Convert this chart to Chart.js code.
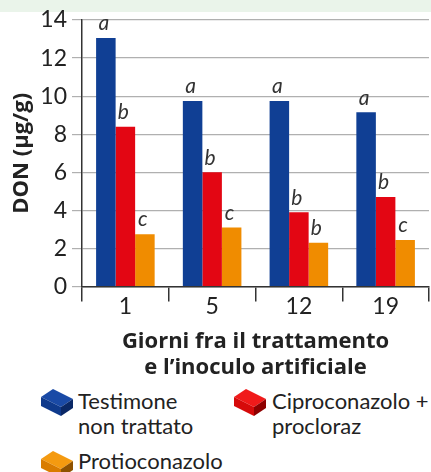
<!DOCTYPE html>
<html>
<head>
<meta charset="utf-8">
<script src="https://cdn.jsdelivr.net/npm/chart.js"></script>
<style>
  html, body { margin: 0; padding: 0; background: #fff; }
  #wrap { position: relative; width: 431px; height: 472px; overflow: hidden; font-family: Lato, sans-serif; color: #222; }
  #band { position: absolute; left: 0; top: 0; width: 431px; height: 12px; background: #eaf4ea; }
  #box { position: absolute; left: 0; top: 0; width: 431px; height: 382px; }
  .leg { position: absolute; font-size: 22px; line-height: 25px; white-space: nowrap; }
  .ico { position: absolute; width: 32px; height: 28px; }
</style>
</head>
<body>
<div id="wrap">
  <div id="band"></div>
  <div id="box"><canvas id="chart"></canvas></div>
  <div id="legend"></div>
</div>
<script>
document.addEventListener('DOMContentLoaded', function () {
    const days = ['1', '5', '12', '19'];
    const seriesNames = [['Testimone', 'non trattato'], ['Ciproconazolo +', 'procloraz'], ['Protioconazolo']];
    const testimone = [13.05, 9.75, 9.75, 9.15];
    const ciproconazolo = [8.4, 6.0, 3.9, 4.7];
    const protioconazolo = [2.75, 3.1, 2.3, 2.45];
    const lettersTestimone = ['a', 'a', 'a', 'a'];
    const lettersCipro = ['b', 'b', 'b', 'b'];
    const lettersProtio = ['c', 'c', 'b', 'c'];
    const yTicks = [0, 2, 4, 6, 8, 10, 12, 14];

    // face colours for the little 3D boxes: top, front, side
    const colors = ['#103f94', '#e30613', '#f08c00'];
    const faces = [
        ['#1a4aa6', '#0f3a8c', '#0a2866'],
        ['#f01a1a', '#d60a0a', '#8e0000'],
        ['#f49a10', '#d97c00', '#8f5200']
    ];

    // letters drawn above each bar
    const letterPlugin = {
        id: 'letters',
        afterDatasetsDraw(chart) {
            const ctx = chart.ctx;
            ctx.save();
            ctx.font = 'italic 21px Lato';
            ctx.fillStyle = '#333';
            ctx.textAlign = 'center';
            ctx.textBaseline = 'bottom';
            chart.data.datasets.forEach((ds, i) => {
                chart.getDatasetMeta(i).data.forEach((bar, j) => {
                    ctx.fillText(ds.letters[j], bar.x - 2, bar.y - 4);
                });
            });
            ctx.restore();
        }
    };

    new Chart(document.getElementById('chart'), {
        type: 'bar',
        data: {
            labels: days,
            datasets: [
                { label: seriesNames[0].join(' '), data: testimone, backgroundColor: colors[0], letters: lettersTestimone },
                { label: seriesNames[1].join(' '), data: ciproconazolo, backgroundColor: colors[1], letters: lettersCipro },
                { label: seriesNames[2].join(' '), data: protioconazolo, backgroundColor: colors[2], letters: lettersProtio }
            ]
        },
        options: {
            responsive: true,
            maintainAspectRatio: false,
            animation: false,
            layout: { padding: { top: 20, right: 2, left: 0, bottom: 0 } },
            datasets: { bar: { categoryPercentage: 0.675, barPercentage: 1 } },
            plugins: { legend: { display: false }, tooltip: { enabled: false } },
            scales: {
                x: {
                    grid: { offset: true, drawOnChartArea: false, tickLength: 15, color: '#333', lineWidth: 1.5 },
                    border: { color: '#333', width: 1.5 },
                    ticks: { color: '#222', font: { family: 'Lato', size: 23 }, padding: -9 },
                    title: {
                        display: true,
                        text: ['Giorni fra il trattamento', 'e l\u2019inoculo artificiale'],
                        color: '#222',
                        font: { family: 'Open Sans', size: 22, weight: 'bold', lineHeight: 1.2 },
                        padding: { top: 17, bottom: 1 }
                    }
                },
                y: {
                    min: 0,
                    max: 14,
                    afterBuildTicks(scale) { scale.ticks = yTicks.map(v => ({ value: v })); },
                    afterFit(scale) { scale.width = 82; },
                    grid: { color: '#b0b0b0', tickColor: '#b0b0b0', tickLength: 10, lineWidth: 1.2 },
                    border: { color: '#333', width: 1.5 },
                    ticks: { color: '#222', font: { family: 'Lato', size: 23 }, padding: 5 },
                    title: {
                        display: true,
                        text: 'DON (\u00b5g/g)',
                        color: '#222',
                        font: { family: 'Open Sans', size: 22, weight: 'bold' },
                        padding: { top: 9, bottom: 0 }
                    }
                }
            }
        },
        plugins: [letterPlugin]
    });

    // legend with box icons
    const legend = document.getElementById('legend');
    const spots = [[41, 388, 78, 388], [234, 388, 272, 388], [41, 450, 78, 448]];
    seriesNames.forEach((name, i) => {
        const f = faces[i];
        const [ix, iy, tx, ty] = spots[i];
        legend.insertAdjacentHTML('beforeend',
            '<svg class="ico" style="left:' + ix + 'px;top:' + iy + 'px" viewBox="0 0 32 28">' +
            '<polygon points="0,9 12,1 32,11 20,19" fill="' + f[0] + '"/>' +
            '<polygon points="0,9 20,19 20,28 0,18" fill="' + f[1] + '"/>' +
            '<polygon points="20,19 32,11 32,20 20,28" fill="' + f[2] + '"/>' +
            '</svg>' +
            '<div class="leg" style="left:' + tx + 'px;top:' + ty + 'px">' + name.join('<br>') + '</div>');
    });
});
</script>
</body>
</html>
